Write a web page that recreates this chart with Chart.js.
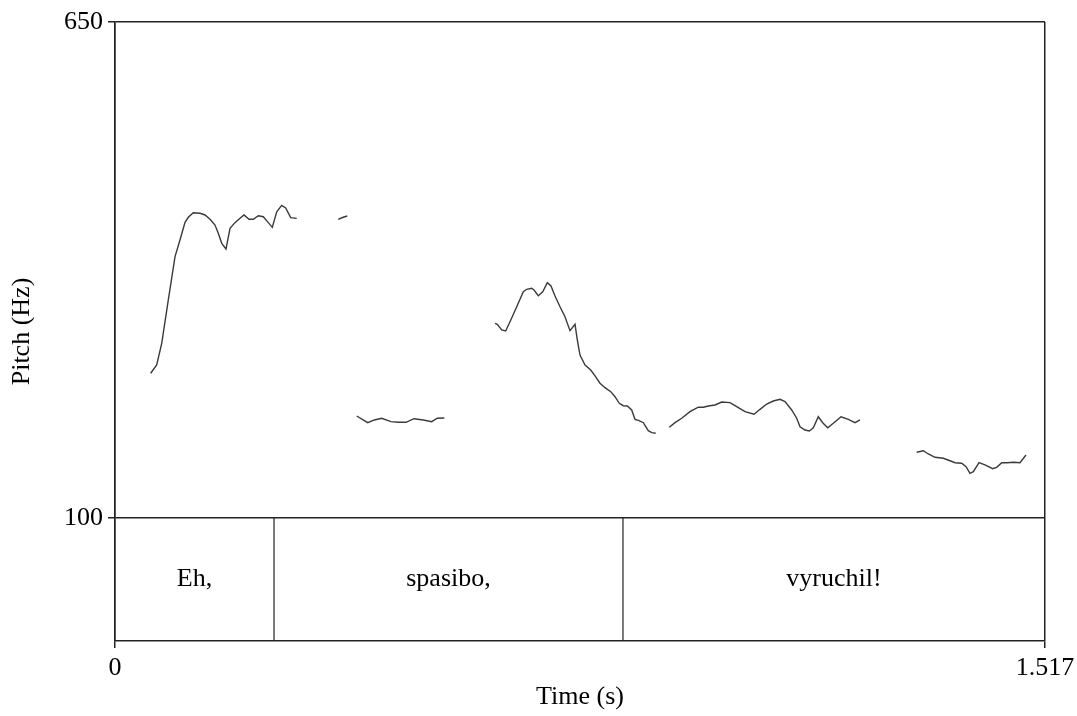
<!DOCTYPE html>
<html lang="en">
<head>
<meta charset="UTF-8">
<title>Pitch</title>
<script src="https://cdn.jsdelivr.net/npm/chart.js@4.4.1/dist/chart.umd.min.js"></script>
<style>
    body { margin: 0; background: #fff; }
    canvas { display: block; }
</style>
</head>
<body>
<canvas id="chart" width="1077" height="716"></canvas>
<script>

// pitch track (s / Hz), a null pitch marks an unvoiced gap
var times = [
    0.0582, 0.0680, 0.0762, 0.0869, 0.0979, 0.1060, 0.1142, 0.1196, 0.1277, 0.1387, 0.1468, 0.1550, 0.1631, 0.1685, 0.1741, 0.1811,
    0.1876, 0.1957, 0.2039, 0.2104, 0.2186, 0.2256, 0.2338, 0.2419, 0.2501, 0.2566, 0.2638, 0.2719, 0.2784, 0.2866, 0.2964,
    0.33,
    0.3642, 0.3711, 0.3789,
    0.386,
    0.3943, 0.4122, 0.4230, 0.4350, 0.4502, 0.4621, 0.4747, 0.4877, 0.5029, 0.5166, 0.5257, 0.5372,
    0.58,
    0.6199, 0.6236, 0.6308, 0.6373, 0.6443, 0.6553, 0.6660, 0.6716, 0.6797, 0.6835, 0.6905, 0.6977, 0.7052, 0.7112, 0.7177, 0.7259,
    0.7340, 0.7422, 0.7504, 0.7541, 0.7585, 0.7667, 0.7760, 0.7830, 0.7911, 0.7993, 0.8086, 0.8156, 0.8226, 0.8291, 0.8357, 0.8428,
    0.8482, 0.8548, 0.8618, 0.8699, 0.8755, 0.8820,
    0.893,
    0.9042, 0.9135, 0.9244, 0.9379, 0.9515, 0.9597, 0.9678, 0.9787, 0.9897, 1.0032, 1.0141, 1.0277, 1.0423, 1.0521, 1.0631, 1.0738,
    1.0847, 1.0929, 1.1038, 1.1120, 1.1174, 1.1255, 1.1325, 1.1391, 1.1472, 1.1544, 1.1626, 1.1717, 1.1843, 1.1962, 1.2071, 1.2152,
    1.26,
    1.3077, 1.3185, 1.3267, 1.3376, 1.3511, 1.3620, 1.3702, 1.3811, 1.3882, 1.3947, 1.4001, 1.4094, 1.4191, 1.4317, 1.4382, 1.4464,
    1.4555, 1.4653, 1.4762, 1.4806, 1.4860
];
var pitch = [
    260.5, 269.7, 293.7, 341.7, 389.8, 408.3, 427.9, 433.4, 438.5, 437.9, 436.0, 431.2, 424.9, 415.7, 404.6, 398.3,
    421.2, 427.5, 432.3, 436.0, 431.2, 431.2, 435.2, 434.1, 427.5, 422.3, 439.6, 446.7, 443.7, 433.0, 432.3,
    null,
    431.2, 433.2, 434.9,
    null,
    213.1, 205.7, 208.7, 210.6, 206.8, 206.1, 206.1, 210.1, 208.7, 206.8, 210.6, 210.9,
    null,
    315.9, 314.8, 308.5, 307.4, 317.7, 334.3, 350.9, 353.6, 354.7, 352.8, 346.5, 350.9, 360.9, 357.3, 346.2, 334.3,
    323.2, 307.7, 314.8, 297.4, 280.7, 269.7, 264.1, 257.5, 249.4, 244.5, 240.1, 234.5, 227.2, 224.5, 224.2, 219.8,
    209.4, 207.9, 205.7, 196.8, 194.6, 193.9,
    null,
    200.6, 205.7, 210.6, 217.9, 222.8, 222.8, 224.2, 225.3, 228.6, 227.9, 223.4, 217.9, 215.0, 220.5, 226.4, 229.7,
    231.6, 229.0, 219.8, 210.6, 201.2, 197.6, 196.5, 200.1, 212.3, 205.7, 200.1, 205.0, 212.3, 209.4, 205.7, 208.7,
    null,
    172.9, 174.6, 171.0, 167.3, 166.2, 163.5, 161.3, 160.7, 156.9, 149.6, 151.3, 161.3, 158.8, 154.7, 156.2, 161.3,
    161.3, 161.8, 161.3, 165.1, 169.9
];

// text grid tier
var tierLabels = ['Eh,', 'spasibo,', 'vyruchil!'];
var tierEdges = [0, 0.2594, 0.8286, 1.517];

// axes
var xTicks = [0, 1.517];
var xTickLabels = ['0', '1.517'];
var yTicks = [100, 650];
var yTickLabels = ['100', '650'];
var yBottom = -36.4; // tier strip sits below 100 Hz

var font = { family: '"Liberation Serif", "Times New Roman", serif', size: 26 };
var ink = '#222';

var points = times.map(function (t, i) { return { x: t, y: pitch[i] }; });

var datasets = [{
    data: points,
    borderColor: '#3a3a3a',
    borderWidth: 1.4,
    pointRadius: 0,
    showLine: true,
    spanGaps: false
}];

// interval boundaries inside the tier
tierEdges.slice(1, -1).forEach(function (t) {
    datasets.push({
        data: [{ x: t, y: yBottom }, { x: t, y: 100 }],
        borderColor: ink,
        borderWidth: 1.2,
        pointRadius: 0,
        showLine: true
    });
});

var tierText = {
    id: 'tierText',
    afterDatasetsDraw: function (chart) {
        var ctx = chart.ctx, xs = chart.scales.x, ys = chart.scales.y;
        var yMid = (ys.getPixelForValue(100) + ys.getPixelForValue(yBottom)) / 2;
        ctx.save();
        ctx.font = font.size + 'px ' + font.family;
        ctx.fillStyle = '#000';
        ctx.textAlign = 'center';
        ctx.textBaseline = 'middle';
        tierLabels.forEach(function (txt, i) {
            var xm = (xs.getPixelForValue(tierEdges[i]) + xs.getPixelForValue(tierEdges[i + 1])) / 2;
            ctx.fillText(txt, xm, yMid);
        });
        ctx.restore();
    }
};

new Chart(document.getElementById('chart').getContext('2d'), {
    type: 'scatter',
    data: { datasets: datasets },
    plugins: [tierText],
    options: {
        responsive: false,
        animation: false,
        layout: { padding: { top: 22, right: 32, left: 0, bottom: 0 } },
        plugins: { legend: { display: false }, tooltip: { enabled: false } },
        scales: {
            x: {
                type: 'linear',
                min: 0,
                max: 1.517,
                afterBuildTicks: function (s) { s.ticks = xTicks.map(function (v) { return { value: v }; }); },
                afterFit: function (s) { s.height = 75; s.paddingLeft = 0; s.paddingRight = 0; },
                ticks: {
                    callback: function (v, i) { return xTickLabels[i]; },
                    font: font, color: '#000', padding: 5, maxRotation: 0, autoSkip: false
                },
                grid: { color: ink, lineWidth: 1.5, tickLength: 7 },
                border: { color: ink, width: 1.5 },
                title: { display: true, text: 'Time (s)', font: font, color: '#000', padding: { top: 0, bottom: 3 } }
            },
            y: {
                type: 'linear',
                min: yBottom,
                max: 650,
                afterBuildTicks: function (s) { s.ticks = yTicks.map(function (v) { return { value: v }; }); },
                afterFit: function (s) { s.width = 115; s.paddingTop = 0; s.paddingBottom = 0; },
                ticks: {
                    callback: function (v, i) { return yTickLabels[i]; },
                    font: font, color: '#000', padding: 5, autoSkip: false
                },
                grid: { color: ink, lineWidth: 1.5, tickLength: 7 },
                border: { color: ink, width: 1.5 },
                title: { display: true, text: 'Pitch (Hz)', font: font, color: '#000', padding: { top: 7, bottom: 0 } }
            }
        }
    }
});

</script>
</body>
</html>
